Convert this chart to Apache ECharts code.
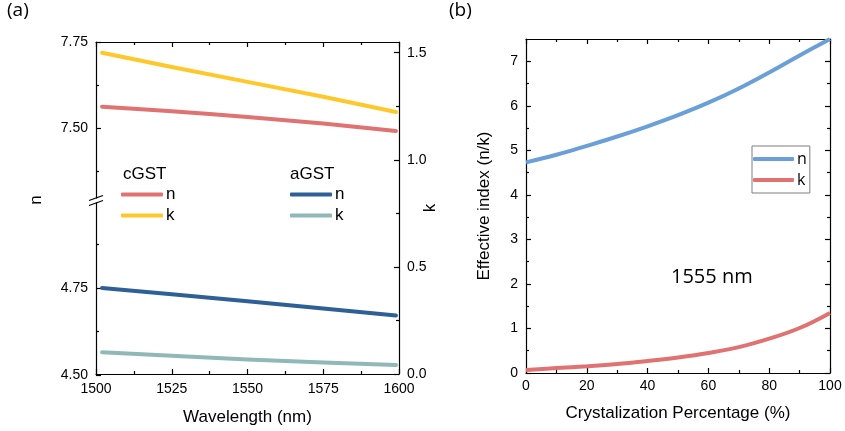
<!DOCTYPE html>
<html>
<head>
<meta charset="utf-8">
<script src="https://cdn.jsdelivr.net/npm/echarts@6.0.0/dist/echarts.min.js"></script>
<style>
  html, body { margin: 0; padding: 0; background: #fff; }
  #chart { width: 845px; height: 431px; }
</style>
</head>
<body>
<div id="chart"></div>
<script>
// ---- Panel (a): GST optical constants vs wavelength ----
const wavelengthNm = [1502, 1525, 1550, 1575, 1599];
const cgstN = [7.562, 7.549, 7.532, 7.513, 7.491];
const cgstK = [1.500, 1.433, 1.364, 1.294, 1.223];
const agstN = [4.750, 4.732, 4.712, 4.691, 4.671];
const agstK = [0.102, 0.085, 0.068, 0.054, 0.042];

const nUpperTicks = [7.50, 7.75];
const nUpperMinor = [7.375, 7.625];
const nLowerTicks = [4.50, 4.75];
const nLowerMinor = [4.625, 4.875];
const kTicks = [0, 0.5, 1.0, 1.5];
const kMinor = [0.25, 0.75, 1.25];

// ---- Panel (b): effective index vs crystallization fraction at 1555 nm ----
const crystPercent = [0, 10, 20, 30, 40, 50, 60, 70, 80, 90, 100];
const effN = [4.73, 4.90, 5.10, 5.31, 5.54, 5.79, 6.07, 6.39, 6.75, 7.13, 7.50];
const effK = [0.07, 0.11, 0.15, 0.20, 0.27, 0.35, 0.45, 0.58, 0.77, 1.01, 1.35];
const effTicks = [0, 1, 2, 3, 4, 5, 6, 7];
const effMinor = [0.5, 1.5, 2.5, 3.5, 4.5, 5.5, 6.5];

const pairs = (xs, ys) => xs.map((x, i) => [x, ys[i]]);

const SANS = 'Liberation Sans';
const CAL = 'Open Sans';
const axLine = { color: '#000', width: 1.2 };
const labelFont = { color: '#000', fontFamily: SANS, fontSize: 14 };
const nameFont = { color: '#000', fontFamily: SANS, fontSize: 17, lineHeight: 17 };

function xAxisMain(grid, pos, range, interval, margin, opts) {
  return Object.assign({
    type: 'value', gridIndex: grid, position: pos,
    min: range[0], max: range[1], interval: interval,
    axisLine: { show: true, onZero: false, lineStyle: axLine },
    axisTick: { show: true, inside: true, length: 5, lineStyle: axLine },
    minorTick: { show: true, splitNumber: 2, length: 3, lineStyle: axLine },
    axisLabel: Object.assign({ show: pos === 'bottom', margin: margin, formatter: v => String(v) }, labelFont),
    splitLine: { show: false }
  }, opts || {});
}

function yAxisTicks(grid, pos, range, ticks, len, showLine, showLabels, fmt, opts) {
  return Object.assign({
    type: 'value', gridIndex: grid, position: pos,
    min: range[0], max: range[1],
    axisLine: { show: showLine, onZero: false, lineStyle: axLine },
    axisTick: { show: true, inside: true, length: len, customValues: ticks, lineStyle: axLine },
    axisLabel: Object.assign({ show: showLabels, customValues: ticks, formatter: fmt, margin: 8 }, labelFont),
    splitLine: { show: false }
  }, opts || {});
}

const kRange = [0, 1.55];
const nUpperRange = [7.2965, 7.75];
const nLowerRange = [4.50, 4.9943];
const waveRange = [1500, 1600];
const effRange = [0, 7.5];

const option = {
  animation: false,
  backgroundColor: '#fff',
  title: [
    { text: '(a)', left: 7, top: 1, padding: 0,
      textStyle: { fontFamily: CAL, fontSize: 19, fontWeight: 'normal', color: '#000' } },
    { text: '(b)', left: 449, top: 1, padding: 0,
      textStyle: { fontFamily: CAL, fontSize: 19, fontWeight: 'normal', color: '#000' } },
    { text: 'cGST', left: 123, top: 166, padding: 0,
      textStyle: { fontFamily: SANS, fontSize: 17, lineHeight: 17, fontWeight: 'normal', color: '#000' } },
    { text: 'aGST', left: 290, top: 166, padding: 0,
      textStyle: { fontFamily: SANS, fontSize: 17, lineHeight: 17, fontWeight: 'normal', color: '#000' } },
    { text: '1555 nm', left: 671, top: 265, padding: 0,
      textStyle: { fontFamily: CAL, fontSize: 20, lineHeight: 24, fontWeight: 'normal', color: '#000' } }
  ],
  grid: [
    { left: 96, top: 42, width: 303, height: 333 },   // (a) full frame, k axis
    { left: 96, top: 42, width: 303, height: 156 },   // (a) upper n segment
    { left: 96, top: 203, width: 303, height: 172 },  // (a) lower n segment
    { left: 526, top: 39, width: 304, height: 334 }   // (b)
  ],
  xAxis: [
    xAxisMain(0, 'bottom', waveRange, 25, 8, {
      name: 'Wavelength (nm)', nameLocation: 'middle', nameGap: 35, nameTextStyle: nameFont
    }),
    xAxisMain(0, 'top', waveRange, 25, 8),
    { type: 'value', gridIndex: 1, min: waveRange[0], max: waveRange[1], show: false },
    { type: 'value', gridIndex: 2, min: waveRange[0], max: waveRange[1], show: false },
    xAxisMain(3, 'bottom', [0, 100], 20, 6, {
      name: 'Crystalization Percentage (%)', nameLocation: 'middle', nameGap: 32, nameTextStyle: nameFont
    }),
    xAxisMain(3, 'top', [0, 100], 20, 6)
  ],
  yAxis: [
    yAxisTicks(0, 'right', kRange, kTicks, 5, true, true, v => v.toFixed(1), {
      name: 'k', nameLocation: 'middle', nameRotate: 90, nameGap: 23, nameMoveOverlap: false,
      nameTextStyle: nameFont
    }),
    yAxisTicks(0, 'right', kRange, kMinor, 3, false, false),
    yAxisTicks(1, 'left', nUpperRange, nUpperTicks, 5, true, true, v => v.toFixed(2)),
    yAxisTicks(1, 'left', nUpperRange, nUpperMinor, 3, false, false),
    yAxisTicks(2, 'left', nLowerRange, nLowerTicks, 5, true, true, v => v.toFixed(2)),
    yAxisTicks(2, 'left', nLowerRange, nLowerMinor, 3, false, false),
    yAxisTicks(3, 'left', effRange, effTicks, 5, true, true, v => String(v), {
      name: 'Effective index (n/k)', nameLocation: 'middle', nameRotate: 90, nameGap: 33, nameTextStyle: nameFont
    }),
    yAxisTicks(3, 'left', effRange, effMinor, 3, false, false),
    yAxisTicks(3, 'right', effRange, effTicks, 5, true, false),
    yAxisTicks(3, 'right', effRange, effMinor, 3, false, false)
  ],
  legend: [
    { data: ['cGST n', 'cGST k'], left: 121, top: 186, orient: 'vertical', padding: 0,
      icon: 'roundRect', itemWidth: 42, itemHeight: 4, itemGap: 4, selectedMode: false,
      formatter: name => name.split(' ')[1],
      textStyle: { fontFamily: SANS, fontSize: 17, lineHeight: 17, color: '#000', padding: [0, 0, 0, -2] } },
    { data: ['aGST n', 'aGST k'], left: 290, top: 186, orient: 'vertical', padding: 0,
      icon: 'roundRect', itemWidth: 42, itemHeight: 4, itemGap: 4, selectedMode: false,
      formatter: name => name.split(' ')[1],
      textStyle: { fontFamily: SANS, fontSize: 17, lineHeight: 17, color: '#000', padding: [0, 0, 0, -2] } },
    { data: ['n', 'k'], left: 752, top: 146, orient: 'vertical', padding: [5, 3, 5, 1],
      borderColor: '#7f7f7f', borderWidth: 1, backgroundColor: '#fff',
      icon: 'roundRect', itemWidth: 41, itemHeight: 4, itemGap: 5, selectedMode: false,
      textStyle: { fontFamily: CAL, fontSize: 16, lineHeight: 16, color: '#000', padding: [0, 0, 0, -2] } }
  ],
  graphic: [
    { type: 'text', x: 36, y: 200, rotation: Math.PI / 2,
      style: { text: 'n', font: '17px "Liberation Sans"', fill: '#000', align: 'center', verticalAlign: 'middle' } },
    { type: 'line', shape: { x1: 89, y1: 200.5, x2: 103, y2: 195.5 }, style: { stroke: '#000', lineWidth: 1.2 } },
    { type: 'line', shape: { x1: 89, y1: 205.5, x2: 103, y2: 200.5 }, style: { stroke: '#000', lineWidth: 1.2 } }
  ],
  series: [
    { name: 'cGST n', type: 'line', xAxisIndex: 2, yAxisIndex: 2, data: pairs(wavelengthNm, cgstN),
      showSymbol: false, smooth: 0.3, color: '#e07272',
      lineStyle: { width: 4, color: '#e07272', cap: 'round', join: 'round' } },
    { name: 'cGST k', type: 'line', xAxisIndex: 0, yAxisIndex: 0, data: pairs(wavelengthNm, cgstK),
      showSymbol: false, color: '#ffc82a',
      lineStyle: { width: 4, color: '#ffc82a', cap: 'round', join: 'round' } },
    { name: 'aGST n', type: 'line', xAxisIndex: 3, yAxisIndex: 4, data: pairs(wavelengthNm, agstN),
      showSymbol: false, color: '#2e5f97',
      lineStyle: { width: 4, color: '#2e5f97', cap: 'round', join: 'round' } },
    { name: 'aGST k', type: 'line', xAxisIndex: 0, yAxisIndex: 0, data: pairs(wavelengthNm, agstK),
      showSymbol: false, color: '#8fb8b7',
      lineStyle: { width: 4, color: '#8fb8b7', cap: 'round', join: 'round' } },
    { name: 'n', type: 'line', xAxisIndex: 4, yAxisIndex: 6, data: pairs(crystPercent, effN),
      showSymbol: false, smooth: 0.4, color: '#6a9fd7',
      lineStyle: { width: 4, color: '#6a9fd7' } },
    { name: 'k', type: 'line', xAxisIndex: 4, yAxisIndex: 6, data: pairs(crystPercent, effK),
      showSymbol: false, smooth: 0.4, color: '#e07272',
      lineStyle: { width: 4, color: '#e07272' } }
  ]
};

const chart = echarts.init(document.getElementById('chart'), null, { renderer: 'canvas' });
chart.setOption(option);
</script>
</body>
</html>
